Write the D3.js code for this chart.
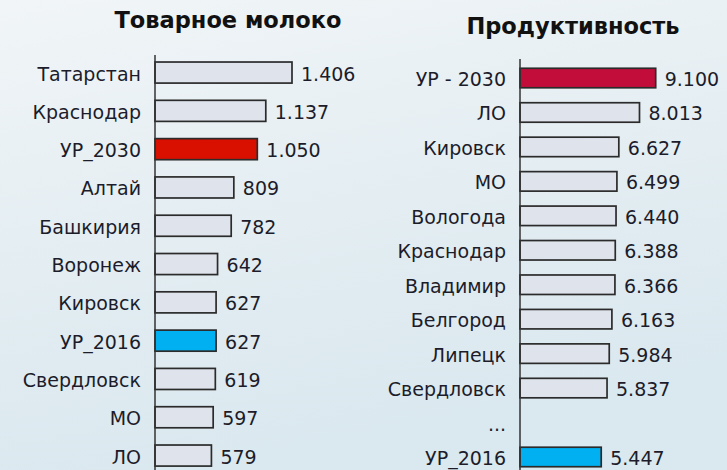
<!DOCTYPE html>
<html lang="ru">
  <head>
    <meta charset="utf-8" />
    <title>Товарное молоко и продуктивность</title>
    <script src="https://d3js.org/d3.v7.js"></script>
    <style>
      body { margin: 0; }
      text { font-family: "DejaVu Sans", Verdana, sans-serif; }
    </style>
  </head>
  <body>
    <div id="graph"></div>
    <script>

    // data: left panel
    var milkCats = ["Татарстан", "Краснодар", "УР_2030", "Алтай", "Башкирия", "Воронеж",
                    "Кировск", "УР_2016", "Свердловск", "МО", "ЛО"];
    var milkVals = [1406, 1137, 1050, 809, 782, 642, 627, 627, 619, 597, 579];

    // data: right panel ("..." is a gap row with no bar)
    var prodCats = ["УР - 2030", "ЛО", "Кировск", "МО", "Вологода", "Краснодар",
                    "Владимир", "Белгород", "Липецк", "Свердловск", "...", "УР_2016"];
    var prodVals = [9100, 8013, 6627, 6499, 6440, 6388, 6366, 6163, 5984, 5837, null, 5447];

    var w = 727, h = 470;
    var fmt = d3.formatLocale({decimal: ",", thousands: ".", grouping: [3], currency: ["", ""]}).format(",d");

    var svg = d3.select("#graph")
      .append("svg")
        .attr("width", w)
        .attr("height", h);

    // background
    var defs = svg.append("defs");
    var grad = defs.append("linearGradient")
      .attr("id", "bg")
      .attr("x1", 0).attr("y1", 0).attr("x2", 0.3).attr("y2", 1);
    grad.append("stop").attr("offset", "0%").attr("stop-color", "#f1f5f7");
    grad.append("stop").attr("offset", "55%").attr("stop-color", "#e3edf2");
    grad.append("stop").attr("offset", "100%").attr("stop-color", "#dae8ef");
    svg.append("rect").attr("width", w).attr("height", h).attr("fill", "url(#bg)");

    function panel(opts) {
      var g = svg.append("g");

      var y = d3.scaleBand()
        .domain(d3.range(opts.cats.length))
        .range([opts.top, opts.top + opts.step * opts.cats.length])
        .paddingInner(opts.pad)
        .paddingOuter(opts.pad / 2);

      var x = d3.scaleLinear()
        .domain([0, d3.max(opts.vals)])
        .range([opts.axisX, opts.axisX + opts.width]);

      g.append("text")
        .attr("x", opts.titleX)
        .attr("y", opts.titleY)
        .attr("text-anchor", "middle")
        .attr("font-size", "22.5px")
        .attr("font-weight", "bold")
        .attr("fill", "#111")
        .text(opts.title);

      var rows = opts.cats.map((c, i) => ({cat: c, val: opts.vals[i], i: i}));

      g.selectAll("rect.bar")
        .data(rows.filter(d => d.val != null))
        .join("rect")
          .attr("class", "bar")
          .attr("x", x(0))
          .attr("y", d => y(d.i))
          .attr("width", d => x(d.val) - x(0))
          .attr("height", y.bandwidth())
          .attr("fill", d => opts.colors[d.cat] || "#dfe4ec")
          .attr("stroke", "#2b2b2b")
          .attr("stroke-width", 1.7);

      g.append("line")
        .attr("x1", opts.axisX).attr("x2", opts.axisX)
        .attr("y1", opts.axisTop).attr("y2", h)
        .attr("stroke", "#333")
        .attr("stroke-width", 1.5);

      g.selectAll("text.cat")
        .data(rows)
        .join("text")
          .attr("class", "cat")
          .attr("x", opts.axisX - 14)
          .attr("y", d => y(d.i) + y.bandwidth() / 2)
          .attr("dy", "0.42em")
          .attr("text-anchor", "end")
          .attr("font-size", "19px")
          .attr("fill", "#1c1c2a")
          .text(d => d.cat);

      g.selectAll("text.val")
        .data(rows.filter(d => d.val != null))
        .join("text")
          .attr("class", "val")
          .attr("x", d => x(d.val) + 9)
          .attr("y", d => y(d.i) + y.bandwidth() / 2)
          .attr("dy", "0.42em")
          .attr("font-size", "19px")
          .attr("fill", "#1c1c2a")
          .text(d => fmt(d.val));
    }

    panel({
      title: "Товарное молоко", titleX: 228, titleY: 28,
      cats: milkCats, vals: milkVals,
      top: 53.4, step: 38.3, pad: 0.45,
      axisX: 155, axisTop: 55, width: 137,
      colors: {"УР_2030": "#d91000", "УР_2016": "#00b0f0"}
    });

    panel({
      title: "Продуктивность", titleX: 573, titleY: 34,
      cats: prodCats, vals: prodVals,
      top: 60.8, step: 34.45, pad: 0.434,
      axisX: 520, axisTop: 59, width: 135.7,
      colors: {"УР - 2030": "#c20d3a", "УР_2016": "#00b0f0"}
    });

    </script>
  </body>
</html>
